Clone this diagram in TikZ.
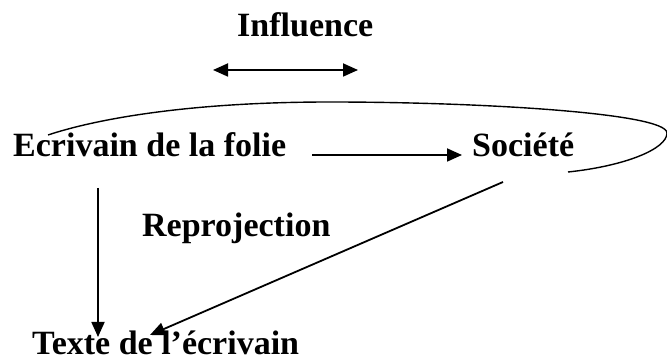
\documentclass[tikz,border=0pt]{standalone}
\usepackage{fontspec}
\setmainfont{Liberation Serif}
\usetikzlibrary{arrows.meta,positioning}

\begin{document}
\begin{tikzpicture}[x=1pt,y=1pt,
 lbl/.style={font=\fontsize{34}{40}\selectfont\bfseries, anchor=base west, inner sep=0},
 arr/.style={-{Triangle[length=15pt,width=13pt]}, line width=1.8pt},
 loop/.style={line width=1.4pt},
]
 \useasboundingbox (0,0) rectangle (667,361);
 %
 \node[lbl] (infl) at (237,324) {Influence};
 \node[lbl] (ecri) at (13,204) {Ecrivain de la folie};
 \node[lbl] (soc) at (472,204) {Société};
 \node[lbl] (repro) at (142,124) {Reprojection};
 \node[lbl] (texte) at (32,6) {Texte de l’écrivain};
 %
 \coordinate (infl-l) at (213,291);
 \coordinate (infl-r) at (358,291);
 \draw[{Triangle[length=15pt,width=13pt]}-{Triangle[length=15pt,width=13pt]}, line width=1.8pt] (infl-l) -- (infl-r);
 %
 \draw[loop] (568,189) .. controls (625,195) and (667,212) .. (667,228)
   .. controls (667,248) and (480,259) .. (330,259)
   .. controls (180,259) and (90,240) .. (48,226);
 %
 \draw[arr, shorten <=26pt, shorten >=10pt] ([yshift=2pt]ecri.base east) -- ([yshift=2pt]soc.base west);
 \draw[arr] ([xshift=85pt,yshift=-31pt]ecri.base west) -- ([xshift=66pt,yshift=18pt]texte.base west);
 \draw[arr] ([xshift=31pt,yshift=-25pt]soc.base west) -- ([xshift=118pt,yshift=20pt]texte.base west);
\end{tikzpicture}
\end{document}
